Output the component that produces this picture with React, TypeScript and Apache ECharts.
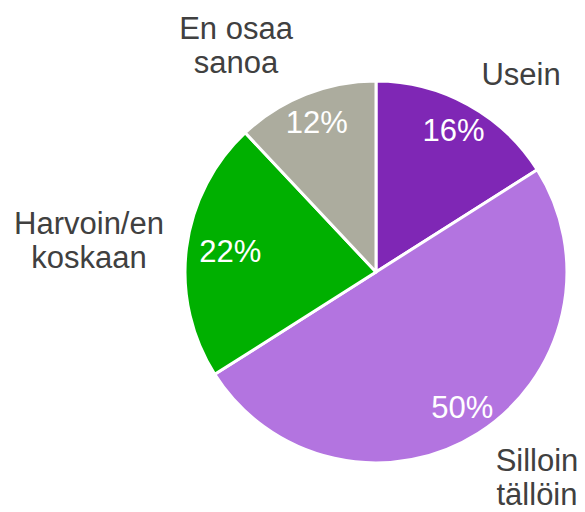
import React, { useEffect, useRef } from "react";
import * as echarts from "echarts";

const categories = ["Usein", "Silloin\ntällöin", "Harvoin/en\nkoskaan", "En osaa\nsanoa"];
const values = [16, 50, 22, 12];
const colors = ["#7f27b5", "#b374e0", "#00b000", "#acac9e"];

// label anchor points (text centres) for category labels
const labelAnchors: [number, number][] = [
  [521, 74],
  [537, 477],
  [89, 240],
  [236, 45],
];

export default function App() {
  const ref = useRef<HTMLDivElement>(null);
  useEffect(() => {
    if (!ref.current) return;
    const chart = echarts.init(ref.current, null, { renderer: "svg" });
    const data = categories.map((name, i) => ({
      name,
      value: values[i],
      itemStyle: { color: colors[i] },
    }));
    chart.setOption({
      animation: false,
      backgroundColor: "#ffffff",
      series: [
        {
          type: "pie",
          center: [376, 272],
          radius: 191,
          startAngle: 90,
          clockwise: true,
          silent: true,
          itemStyle: { borderColor: "#ffffff", borderWidth: 3 },
          label: {
            show: true,
            position: "outside",
            formatter: (p: any) => p.name,
            color: "#404040",
            fontFamily: "Liberation Sans, Arial, sans-serif",
            fontSize: 31,
            lineHeight: 34,
            align: "center",
            verticalAlign: "middle",
            overflow: "none",
            width: 300,
          },
          labelLine: { show: false },
          labelLayout: (p: any) => ({
            x: labelAnchors[p.dataIndex][0],
            y: labelAnchors[p.dataIndex][1],
            align: "center",
            verticalAlign: "middle",
          }),
          data,
        },
        {
          type: "pie",
          center: [376, 272],
          radius: [126, 190],
          startAngle: 90,
          clockwise: true,
          silent: true,
          itemStyle: { color: "rgba(0,0,0,0)", borderWidth: 0 },
          label: {
            show: true,
            position: "inside",
            formatter: (p: any) => p.value + "%",
            color: "#ffffff",
            fontFamily: "Liberation Sans, Arial, sans-serif",
            fontSize: 31,
          },
          labelLine: { show: false },
          labelLayout: (p: any) => (p.dataIndex === 2 ? { dx: 14, dy: 0 } : {}),
          data: categories.map((name, i) => ({ name, value: values[i] })),
        },
      ],
    });
    return () => chart.dispose();
  }, []);
  return (
    <div
      ref={ref}
      style={{ position: "fixed", left: 0, top: 0, width: 585, height: 512 }}
    />
  );
}
